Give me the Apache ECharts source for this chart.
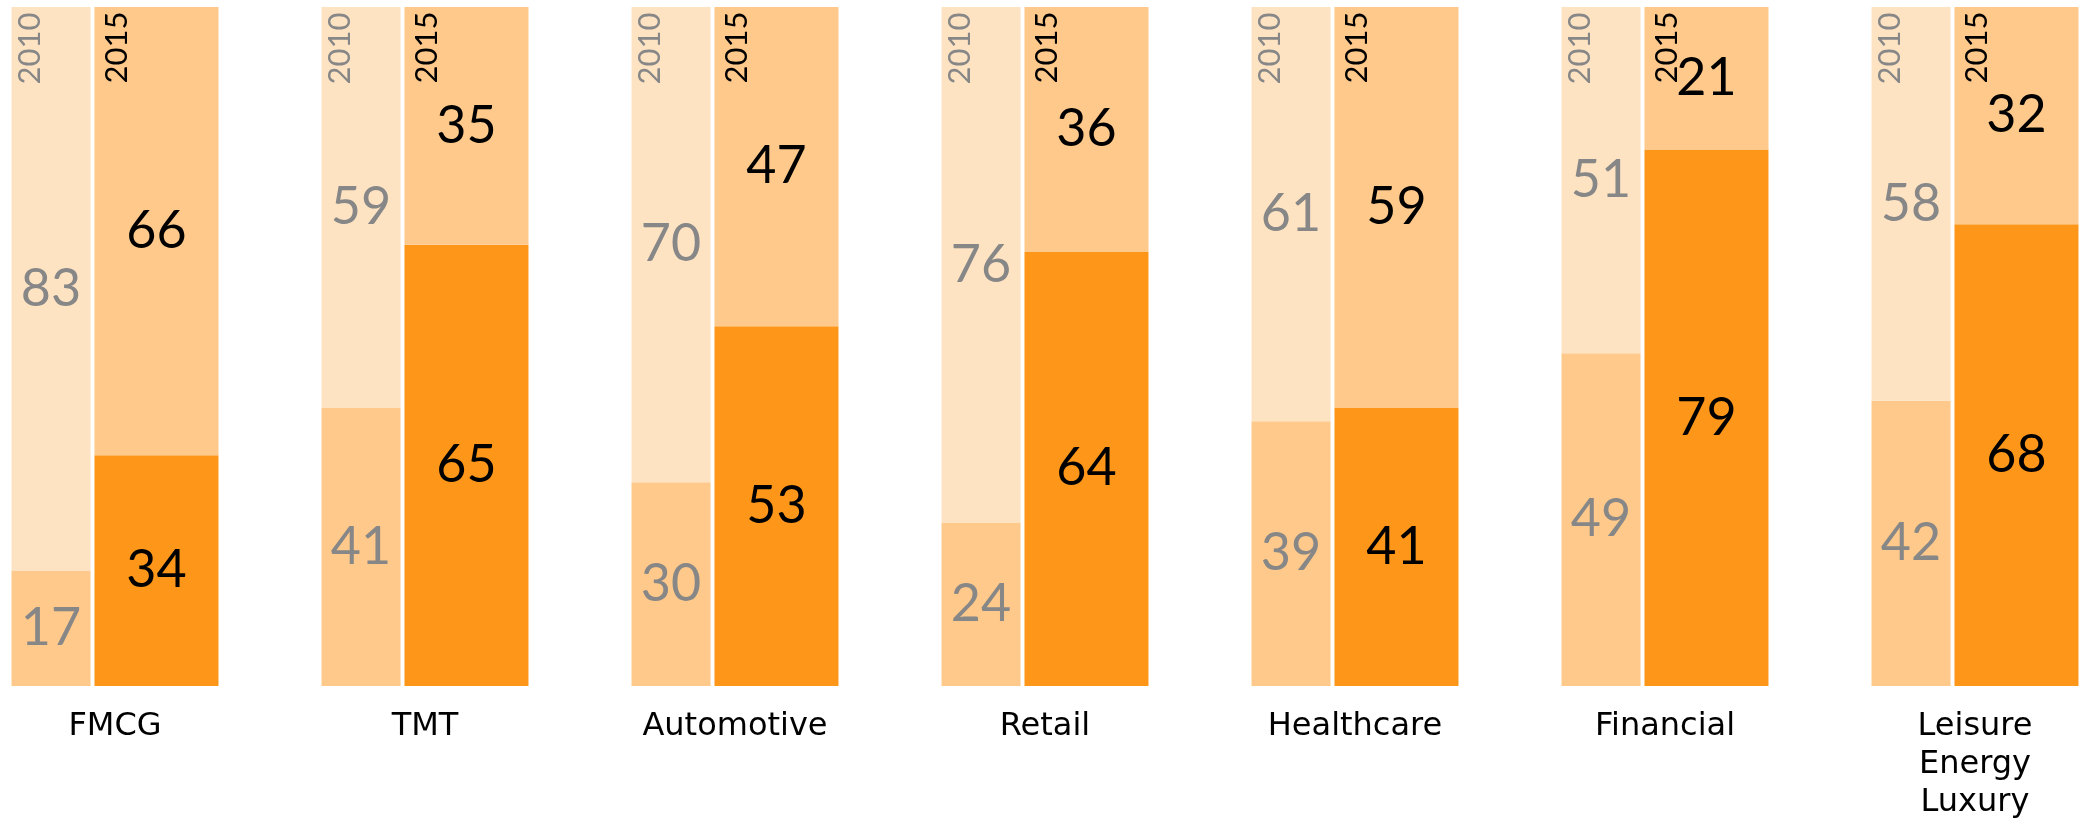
<!DOCTYPE html>
<html>
<head>
<meta charset="utf-8">
<script src="https://cdn.jsdelivr.net/npm/echarts@6/dist/echarts.min.js"></script>
<style>
  html, body { margin: 0; padding: 0; background: #fff; }
  #chart { width: 2079px; height: 819px; }
</style>
</head>
<body>
<div id="chart"></div>
<script>
// categories and shares (%)
var categories = ['FMCG', 'TMT', 'Automotive', 'Retail', 'Healthcare', 'Financial', 'Leisure\nEnergy\nLuxury'];
var low2010 = [17, 41, 30, 24, 39, 49, 42];
var high2010 = [83, 59, 70, 76, 61, 51, 58];
var low2015 = [34, 65, 53, 64, 41, 79, 68];
var high2015 = [66, 35, 47, 36, 59, 21, 32];
var years = ['2010', '2015'];

var FONT = 'Lato, "Noto Sans", sans-serif';
var GRAY = '#878787';

var chart = echarts.init(document.getElementById('chart'));

function valueLabel(color) {
  return {
    show: true,
    position: 'inside',
    color: color,
    fontFamily: FONT,
    fontSize: 52
  };
}

// year tag at the top of each column, rotated
function yearMarks(year, dx, dy, color) {
  return {
    symbol: 'rect',
    symbolSize: 1,
    itemStyle: { color: 'transparent' },
    label: {
      show: true,
      formatter: year,
      position: [dx, dy],
      rotate: 90,
      align: 'right',
      verticalAlign: 'middle',
      color: color,
      fontFamily: FONT,
      fontSize: 31
    },
    data: categories.map(function (c, i) { return { coord: [i, 100] }; })
  };
}

chart.setOption({
  animation: false,
  grid: { left: -40, right: -51, top: 7, bottom: 133, outerBoundsMode: 'none', containLabel: false },
  xAxis: {
    type: 'category',
    data: categories,
    axisLine: { show: false },
    axisTick: { show: false },
    axisLabel: {
      margin: 22,
      color: '#000',
      fontFamily: '"DejaVu Sans", sans-serif',
      fontSize: 32,
      lineHeight: 38
    }
  },
  yAxis: {
    type: 'value',
    min: 0,
    max: 100,
    show: false,
    splitLine: { show: false }
  },
  series: [
    {
      name: '2010 low', type: 'bar', stack: 'y2010', barWidth: 79, barGap: '5%',
      itemStyle: { color: '#FEC98A' },
      label: valueLabel(GRAY),
      data: low2010
    },
    {
      name: '2010 high', type: 'bar', stack: 'y2010', barWidth: 79, barGap: '5%',
      itemStyle: { color: '#FEE3C3' },
      label: valueLabel(GRAY),
      markPoint: yearMarks(years[0], -21, 6, GRAY),
      data: high2010
    },
    {
      name: '2015 low', type: 'bar', stack: 'y2015', barWidth: 124, barGap: '5%',
      itemStyle: { color: '#FD9619' },
      label: valueLabel('#000'),
      data: low2015
    },
    {
      name: '2015 high', type: 'bar', stack: 'y2015', barWidth: 124, barGap: '5%',
      itemStyle: { color: '#FEC98A' },
      label: valueLabel('#000'),
      markPoint: yearMarks(years[1], -39, 5, '#000'),
      data: high2015
    }
  ]
});
</script>
</body>
</html>
